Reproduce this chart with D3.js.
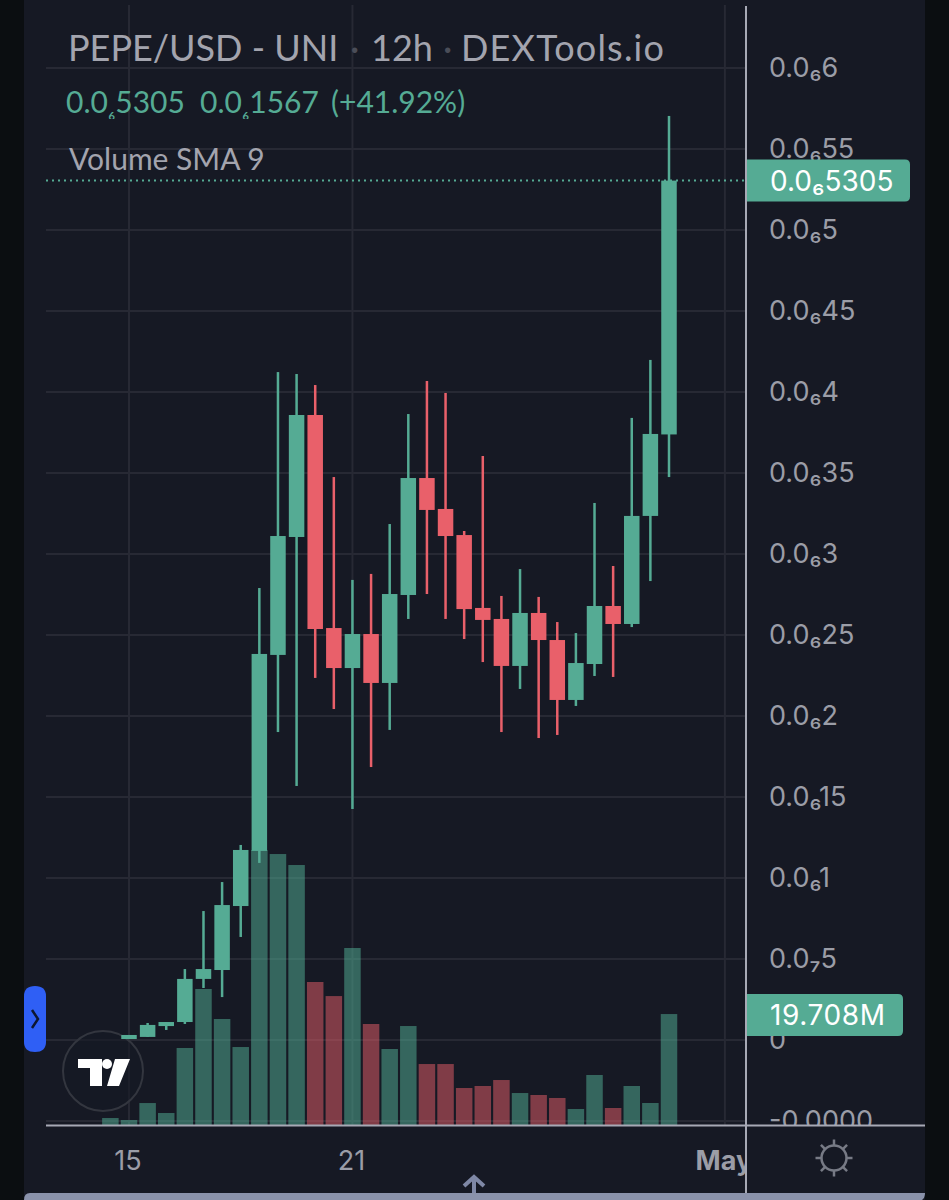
<!DOCTYPE html>
<html>
<head>
<meta charset="utf-8">
<script src="https://cdn.jsdelivr.net/npm/d3@7"></script>
<style>
  html, body { margin: 0; padding: 0; background: #0b0e11; }
  svg { display: block; }
  .axis-font { font-family: Inter, Roboto, sans-serif; }
  .head-font { font-family: Lato, "Open Sans", sans-serif; }
</style>
</head>
<body>
<div id="chart"></div>
<script>
// --- Data: prices in units of 1e-6 USD, volume in millions ---
const opens  = [.0006,.0019,.0086,.0111,.0377,.0432,.0827,.1167,.2377,.3105,.3858,.2543,.2296,.2506,.2204,.2747,.3469,.3278,.3117,.2667,.2599,.2309,.2636,.2469,.2099,.2321,.2679,.2568,.3235,.3738];
const closes = [.0031,.0093,.0111,.0377,.0438,.0833,.1173,.2383,.3111,.3858,.2537,.2296,.2506,.2204,.2753,.3469,.3272,.3111,.2660,.2593,.2309,.2636,.2469,.2099,.2327,.2679,.2568,.3235,.3741,.5305];
const highs  = [.0031,.0105,.0111,.0438,.0796,.0975,.1204,.2790,.4123,.4111,.4043,.3475,.2840,.2877,.3185,.3864,.4068,.3994,.3142,.3605,.2741,.2907,.2735,.2580,.2512,.3315,.2926,.3840,.4198,.5704];
const lows   = [.0006,.0019,.0062,.0099,.0321,.0265,.0636,.1093,.1901,.1568,.2235,.2043,.1426,.1685,.1914,.2599,.2753,.2599,.2475,.2333,.1901,.2167,.1864,.1883,.2062,.2247,.2241,.2549,.2833,.3475];
// one more volume bar than candles: the oldest bar has its candle scrolled away
const volumes = [1.24,.89,3.9,2.13,13.68,24.16,18.83,13.85,48.85,48.13,46.18,25.4,22.9,31.44,17.94,13.5,17.58,10.83,10.83,6.57,6.93,7.99,5.68,5.33,4.8,2.84,8.88,3.02,6.93,3.91,19.708];

const priceTicks  = [.6,.55,.5,.45,.4,.35,.3,.25,.2,.15,.1,.05,0,-.05];
const priceLabels = ["0.0₆6","0.0₆55","0.0₆5","0.0₆45","0.0₆4","0.0₆35","0.0₆3","0.0₆25","0.0₆2","0.0₆15","0.0₆1","0.0₇5","0","-0.0000"];
const dateTicks   = [new Date(Date.UTC(2023,3,15)), new Date(Date.UTC(2023,3,21)), new Date(Date.UTC(2023,4,1))];
const dateLabels  = ["15","21","May"];
const lastPriceLabel = "0.0₆5305";
const lastVolumeLabel = "19.708M";

const width = 949, height = 1200;
const bg = "#161924", upCol = "#55ab94", downCol = "#e9606a", textCol = "#9b9da7", gridCol = "#272934", lineCol = "#a7a9b5";
const plotL = 46, plotR = 746, plotB = 1125, panelL = 24, panelR = 925;

const barTimes = d3.utcHour.every(12).range(new Date(Date.UTC(2023,3,14,12)), new Date(Date.UTC(2023,3,30,0)));
const candleTimes = barTimes.slice(1);

// --- Scales ---
const x = d3.scaleUtc().domain([candleTimes[0], candleTimes[29]]).range([129, 669]);
const y = d3.scaleLinear().domain([0, .6]).range([1040, 68]);
const yVol = d3.scaleLinear().domain([0, 50]).range([plotB, plotB - 281.5]);

const svg = d3.select("#chart").append("svg").attr("width", width).attr("height", height);

// --- Background ---
svg.append("rect").attr("width", width).attr("height", height).attr("fill", "#0b0e11");
svg.append("rect").attr("x", panelL).attr("width", panelR - panelL).attr("height", height).attr("fill", bg);

const defs = svg.append("defs");
defs.append("clipPath").attr("id", "clip-price").append("rect").attr("x", plotR).attr("y", 0).attr("width", 200).attr("height", plotB);
defs.append("clipPath").attr("id", "clip-time").append("rect").attr("x", 0).attr("y", plotB).attr("width", plotR).attr("height", 70);
defs.append("clipPath").attr("id", "clip-legend").append("rect").attr("x", 0).attr("y", 0).attr("width", plotR).attr("height", 119);

// --- Grid ---
const grid = svg.append("g").attr("stroke", gridCol).attr("stroke-width", 2);
grid.selectAll("line.h").data(priceTicks).join("line").attr("class", "h")
    .attr("x1", plotL).attr("x2", plotR).attr("y1", d => y(d)).attr("y2", d => y(d));
grid.selectAll("line.v").data(dateTicks).join("line").attr("class", "v")
    .attr("x1", d => x(d)).attr("x2", d => x(d)).attr("y1", 5).attr("y2", plotB);

// --- Volume ---
const isUp = i => closes[i] >= opens[i];
svg.append("g").selectAll("rect").data(volumes).join("rect")
    .attr("x", (d, i) => x(barTimes[i]) - 8.25)
    .attr("width", 16.5)
    .attr("y", d => yVol(d))
    .attr("height", d => plotB - yVol(d))
    .attr("fill", (d, i) => (i === 0 || isUp(i - 1)) ? "#53b397" : "#e9606a")
    .attr("fill-opacity", 0.5);

// --- TradingView logo ---
const logo = svg.append("g");
logo.append("circle").attr("cx", 103).attr("cy", 1071).attr("r", 40)
    .attr("fill", bg).attr("fill-opacity", 0.6).attr("stroke", "#33363f").attr("stroke-width", 2);
logo.append("path").attr("fill", "#fff").attr("d", "M78,1059H102V1086H90V1068H78Z M115,1059H130L119,1086H107Z");
logo.append("circle").attr("cx", 107).attr("cy", 1064).attr("r", 5).attr("fill", "#fff");

// --- Candles ---
const candles = svg.append("g").selectAll("g").data(candleTimes).join("g")
    .attr("fill", (d, i) => isUp(i) ? upCol : downCol);
candles.append("rect")
    .attr("x", d => x(d) - 1.25).attr("width", 2.5)
    .attr("y", (d, i) => y(highs[i]))
    .attr("height", (d, i) => y(lows[i]) - y(highs[i]));
candles.append("rect")
    .attr("x", d => x(d) - 7.75).attr("width", 15.5)
    .attr("y", (d, i) => y(Math.max(opens[i], closes[i])))
    .attr("height", (d, i) => Math.abs(y(opens[i]) - y(closes[i])));

// --- Last price line ---
const lastClose = closes[closes.length - 1];
const lastVolume = volumes[volumes.length - 1];
svg.append("line")
    .attr("x1", plotL).attr("x2", plotR).attr("y1", y(lastClose)).attr("y2", y(lastClose))
    .attr("stroke", upCol).attr("stroke-width", 2).attr("stroke-dasharray", "2 4");

// --- Axes ---
const priceAxis = d3.axisRight(y).tickValues(priceTicks).tickSize(0).tickPadding(23)
    .tickFormat((d, i) => priceLabels[i]);
const gPrice = svg.append("g").attr("transform", `translate(${plotR},0)`).call(priceAxis);
gPrice.select(".domain").remove();
gPrice.selectAll("text").attr("class", "axis-font").attr("font-size", 27).attr("fill", textCol)
    .attr("dy", "0.32em");
// the bottom label is cut by the time axis
const gPriceWrap = svg.append("g").attr("clip-path", "url(#clip-price)");
gPriceWrap.node().appendChild(gPrice.node());

const timeAxis = d3.axisBottom(x).tickValues(dateTicks).tickSize(0).tickPadding(26)
    .tickFormat((d, i) => dateLabels[i]);
const gTime = svg.append("g").attr("transform", `translate(0,${plotB})`).call(timeAxis);
gTime.select(".domain").remove();
gTime.selectAll("text").attr("class", "axis-font").attr("font-size", 27).attr("fill", textCol)
    .attr("dx", -1.5)
    .attr("font-weight", (d, i) => dateLabels[i] === "May" ? 700 : 400);
const gTimeWrap = svg.append("g").attr("clip-path", "url(#clip-time)");
gTimeWrap.node().appendChild(gTime.node());

// Axis frame
svg.append("line").attr("x1", plotR).attr("x2", plotR).attr("y1", 6).attr("y2", 1193)
    .attr("stroke", lineCol).attr("stroke-width", 2);
svg.append("line").attr("x1", plotL).attr("x2", panelR).attr("y1", plotB + 0.5).attr("y2", plotB + 0.5)
    .attr("stroke", lineCol).attr("stroke-width", 2);

// --- Last value tags ---
function tag(cy, right, label, spacing) {
    const top = cy - 21, h = 42, r = 5;
    svg.append("path").attr("fill", upCol)
        .attr("d", `M${plotR + 1},${top}H${right - r}Q${right},${top} ${right},${top + r}V${top + h - r}Q${right},${top + h} ${right - r},${top + h}H${plotR + 1}Z`);
    svg.append("text").attr("class", "axis-font").attr("x", 770).attr("y", cy).attr("dy", "0.36em")
        .attr("font-size", 28).attr("letter-spacing", spacing).attr("fill", "#fff").text(label);
}
tag(y(lastClose), 910, lastPriceLabel, 0);
tag(yVol(lastVolume) + 1, 903, lastVolumeLabel, 0.6);

// --- Header ---
const head = svg.append("g").attr("class", "head-font");
const title = head.append("text").attr("y", 61).attr("font-size", 36).attr("fill", "#a3a4ae");
title.append("tspan").attr("x", 68).text("PEPE/USD - UNI");
title.append("tspan").attr("x", 350).attr("fill", "#4a4d58").text("·");
title.append("tspan").attr("x", 371).text("12h");
title.append("tspan").attr("x", 443).attr("fill", "#4a4d58").text("·");
title.append("tspan").attr("x", 461).attr("letter-spacing", 1.2).text("DEXTools.io");

const legendWrap = head.append("g").attr("clip-path", "url(#clip-legend)");
function legendPrice(xPos, sub, digits) {
    const t = legendWrap.append("text").attr("x", xPos).attr("y", 113).attr("font-size", 30).attr("fill", upCol);
    t.append("tspan").text("0.0");
    t.append("tspan").attr("dy", 5).attr("font-size", 22).text(sub);
    t.append("tspan").attr("dy", -5).text(digits);
}
legendPrice(66, "₆", "5305");
legendPrice(200, "₆", "1567");
legendWrap.append("text").attr("x", 331).attr("y", 113).attr("font-size", 30).attr("fill", upCol).text("(+41.92%)");

head.append("text").attr("x", 69).attr("y", 170).attr("font-size", 30).attr("fill", "#a3a4ae").text("Volume SMA 9");

// --- Side pill ---
svg.append("path").attr("fill", "#2f5ff5")
    .attr("d", "M24,996Q24,986 35,986Q46,986 46,996V1042Q46,1052 35,1052Q24,1052 24,1042Z");
svg.append("path").attr("fill", "none").attr("stroke", "#0d1730").attr("stroke-width", 2.5)
    .attr("d", "M32,1010L38,1019L32,1028");

// --- Settings icon ---
const sun = svg.append("g").attr("transform", "translate(834,1158)").attr("stroke", "#777a85").attr("stroke-width", 2.5).attr("fill", "none");
sun.append("circle").attr("r", 12.5);
sun.selectAll("line").data(d3.range(8)).join("line")
    .attr("y1", -12.5).attr("y2", -18.5)
    .attr("transform", d => `rotate(${d * 45})`);

// --- Bottom bar ---
svg.append("path").attr("fill", "#8a92ab")
    .attr("d", `M${panelL},${height}Q${panelL},1193 ${panelL + 6},1193H${panelR}Q${panelR},1198 ${panelR - 3},${height}Z`);
svg.append("path").attr("fill", "none").attr("stroke", "#7f88a6").attr("stroke-width", 4)
    .attr("d", "M474,1193V1177M464,1186L474,1177L484,1186");
</script>
</body>
</html>
